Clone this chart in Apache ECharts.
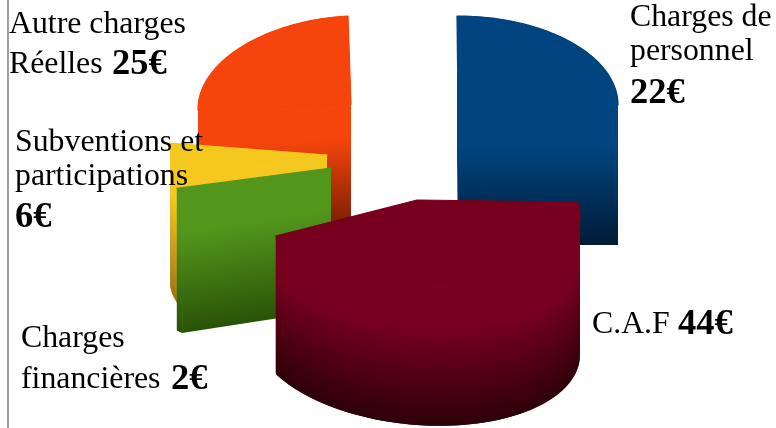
<!DOCTYPE html>
<html><head><meta charset="utf-8">
<style>html,body{margin:0;padding:0;background:#fff}#c{width:776px;height:428px}</style>
<script src="https://cdn.jsdelivr.net/npm/echarts@6/dist/echarts.min.js"></script>
</head><body><div id="c"></div>
<script>
var categories = ['Charges de personnel','C.A.F','Charges financières','Subventions et participations','Autre charges Réelles'];
var values = [22,44,2,6,25];
var unit = '€';
var topColors = ['#00457f','#76001e','#52961c','#f4c81e','#f5440c'];
var darkColors = ['#001c38','#2e0009','#2a5207','#a0780e','#7a2004'];
var paintOrder = [4,3,2,0,1];
// projected geometry of each exploded slice
var cxs=[457,417,331,327,348], cys=[105,205,168,155,101];
var rxs=[161,163,172,157,150], rys=[89,82,46,68,85], shears=[0,11.5,0,13,-8];
var apexX=[458,417,331,327,351], apexY=[105,200,168,155,104];
var depths=[140,138,142,140,120], warps=[1.125,1,0.5,1,1];

var total = values.reduce(function(a,b){return a+b;},0);
var starts=[], c=0;
values.forEach(function(v){starts.push(c/total*360); c+=v;});

function stops(i){return [{offset:0,color:topColors[i]},{offset:0.3,color:topColors[i]},{offset:1,color:darkColors[i]}];}
function grad(i,x0,y0,x1,y1){return {type:'linear',x:x0,y:y0,x2:x1,y2:y1,global:true,colorStops:stops(i)};}
function rimStrip(i,A,B,d){
  var y0=(A[1]+B[1])/2;
  return {type:'polygon',shape:{points:[A,B,[B[0],B[1]+d],[A[0],A[1]+d]]},style:{fill:grad(i,0,y0,0,y0+d)},silent:true};
}
function wallFace(i,apex,P,d){
  var dx=P[0]-apex[0], dy=P[1]-apex[1], f;
  if(Math.abs(dy)>Math.abs(dx)) f=grad(i,0,apex[1],0,apex[1]+d);
  else{
    var len=Math.sqrt(dx*dx+dy*dy), nx=-dy/len, ny=dx/len;
    if(ny<0){nx=-nx;ny=-ny;}
    var L=d*ny;
    f=grad(i,apex[0],apex[1],apex[0]+nx*L,apex[1]+ny*L);
  }
  return {type:'polygon',shape:{points:[apex,P,[P[0],P[1]+d],[apex[0],apex[1]+d]]},style:{fill:f},silent:true};
}
function renderItem(params,api){
  var i=api.value(0), v=api.value(1);
  var a0=starts[i], sweep=v/total*360*warps[i];
  var pt=function(t){var r=t*Math.PI/180;return [cxs[i]+rxs[i]*Math.sin(r),cys[i]-rys[i]*Math.cos(r)+shears[i]*Math.sin(r)];};
  var apex=[apexX[i],apexY[i]], d=depths[i], rim=[], n=Math.max(4,Math.ceil(sweep/1.5));
  for(var k=0;k<=n;k++) rim.push(pt(a0+sweep*k/n));
  var faceStart=Math.cos((a0-90)*Math.PI/180), faceEnd=Math.cos((a0+sweep+90)*Math.PI/180);
  var ch=[];
  for(k=0;k<n;k++) ch.push(rimStrip(i,rim[k],rim[Math.min(k+2,n)],d));
  if(faceStart<=0.02) ch.push(wallFace(i,apex,rim[0],d));
  if(faceEnd<=0.02) ch.push(wallFace(i,apex,rim[n],d));
  ch.push({type:'polygon',shape:{points:[apex].concat(rim)},style:{fill:topColors[i],stroke:topColors[i],lineWidth:1.2,lineJoin:'round'},silent:true});
  return {type:'group',children:ch};
}
var fam='"Liberation Serif"';
function txt(x,base,text,bold){
  var size=bold?36.5:31.8;
  var y=base-0.3375*size+(bold?3.5:2);
  return {type:'text',x:x,y:y,z:100,silent:true,
    style:{text:text,font:(bold?'bold ':'')+size+'px '+fam,fill:'#000',verticalAlign:'middle',align:'left'}};
}
function val(i){return values[i]+unit;}
var chart=echarts.init(document.getElementById('c'),null,{renderer:'canvas'});
chart.setOption({
  animation:false,backgroundColor:'#fff',
  series:[{type:'custom',coordinateSystem:'none',renderItem:renderItem,
    encode:{value:1},silent:true,
    data:paintOrder.map(function(i){return [i,values[i]];})}],
  graphic:{elements:[
    {type:'line',z:99,silent:true,shape:{x1:8,y1:0,x2:8,y2:428},style:{stroke:'#808080',lineWidth:1.5}},
    txt(630,26,'Charges de'),txt(630,60,'personnel'),txt(630,102,val(0),true),
    txt(592,333,'C.A.F'),txt(678,333,val(1),true),
    txt(21,347,'Charges'),txt(21,388,'financières'),txt(171,388,val(2),true),
    txt(15,151,'Subventions et'),txt(15,185,'participations'),txt(15,226,val(3),true),
    txt(9,33,'Autre charges'),txt(9,73,'Réelles'),txt(112,73,val(4),true)
  ]}
});
</script></body></html>
